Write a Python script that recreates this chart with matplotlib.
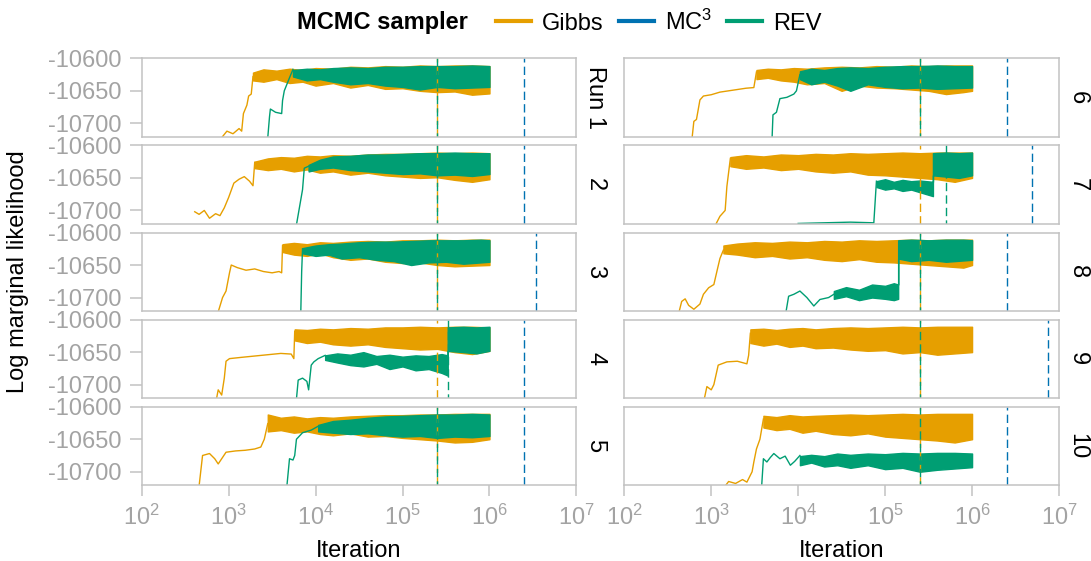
import numpy as np
import matplotlib.pyplot as plt
from matplotlib.lines import Line2D

plt.rcParams['font.family'] = ['Liberation Sans', 'DejaVu Sans']
plt.rcParams['mathtext.fontset'] = 'custom'
plt.rcParams['mathtext.rm'] = 'Liberation Sans'
plt.rcParams['mathtext.it'] = 'Liberation Sans:italic'

GIBBS = '#E69F00'
MC3 = '#0072B2'
REV = '#009E73'
GREY = '#A3A3A3'
SPINE = '#C2C2C2'

runs = ['Run 1', '2', '3', '4', '5', '6', '7', '8', '9', '10']

# pre-convergence paths, x as log10(iteration)
gibbs_path_x = [
    [2.92, 2.98, 3.05, 3.12, 3.15, 3.17, 3.21, 3.23, 3.26, 3.28],
    [2.61, 2.66, 2.72, 2.78, 2.85, 2.90, 2.95, 3.00, 3.06, 3.12, 3.18, 3.24, 3.28, 3.30],
    [2.88, 2.93, 2.97, 3.01, 3.03, 3.10, 3.20, 3.30, 3.40, 3.50, 3.58, 3.61, 3.62],
    [2.86, 2.88, 2.92, 2.95, 2.97, 3.01, 3.15, 3.30, 3.45, 3.60, 3.72, 3.75, 3.76],
    [2.66, 2.70, 2.78, 2.84, 2.88, 2.97, 3.08, 3.19, 3.30, 3.37, 3.41, 3.45],
    [2.78, 2.80, 2.83, 2.87, 2.91, 3.00, 3.10, 3.20, 3.30, 3.40, 3.49, 3.52],
    [3.05, 3.10, 3.16, 3.18, 3.22],
    [2.63, 2.66, 2.70, 2.74, 2.80, 2.87, 2.91, 2.97, 3.03, 3.07, 3.10, 3.14],
    [2.92, 2.95, 3.00, 3.03, 3.08, 3.18, 3.30, 3.41, 3.43, 3.45],
    [3.16, 3.20, 3.28, 3.36, 3.41, 3.47, 3.49, 3.52, 3.56, 3.60],
]
gibbs_path_y = [
    [-10722, -10712, -10716, -10708, -10712, -10685, -10672, -10658, -10655, -10628],
    [-10702, -10706, -10700, -10712, -10705, -10708, -10696, -10680, -10658, -10652, -10648, -10655, -10662, -10626],
    [-10722, -10700, -10690, -10662, -10650, -10654, -10658, -10656, -10660, -10662, -10660, -10662, -10620],
    [-10722, -10708, -10716, -10690, -10664, -10660, -10658, -10656, -10654, -10652, -10653, -10660, -10618],
    [-10722, -10675, -10672, -10680, -10688, -10670, -10668, -10667, -10665, -10662, -10650, -10626],
    [-10722, -10697, -10694, -10664, -10658, -10656, -10652, -10650, -10648, -10646, -10645, -10621],
    [-10722, -10709, -10700, -10663, -10620],
    [-10722, -10706, -10702, -10712, -10718, -10710, -10695, -10685, -10680, -10657, -10640, -10627],
    [-10722, -10703, -10708, -10700, -10670, -10665, -10664, -10668, -10655, -10621],
    [-10722, -10715, -10718, -10712, -10716, -10700, -10685, -10665, -10650, -10619],
]

# sampled band (min / max envelope) after the jump
gibbs_band_x = [
    [3.28, 3.4, 3.55, 3.7, 3.85, 4.0, 4.2, 4.4, 4.6, 4.8, 5.0, 5.2, 5.4, 5.6, 5.8, 6.0],
    [3.30, 3.45, 3.6, 3.75, 3.9, 4.05, 4.2, 4.4, 4.6, 4.8, 5.0, 5.2, 5.4, 5.6, 5.8, 6.0],
    [3.62, 3.75, 3.9, 4.05, 4.2, 4.4, 4.6, 4.8, 5.0, 5.2, 5.4, 5.6, 5.8, 6.0],
    [3.76, 3.9, 4.05, 4.2, 4.4, 4.6, 4.8, 5.0, 5.2, 5.4, 5.6, 5.8, 6.0],
    [3.45, 3.6, 3.75, 3.9, 4.05, 4.2, 4.4, 4.6, 4.8, 5.0, 5.2, 5.4, 5.6, 5.8, 6.0],
    [3.52, 3.65, 3.8, 3.95, 4.1, 4.3, 4.5, 4.7, 4.9, 5.1, 5.3, 5.5, 5.7, 5.9, 6.0],
    [3.22, 3.4, 3.6, 3.8, 4.0, 4.2, 4.4, 4.6, 4.8, 5.0, 5.2, 5.4, 5.6, 5.8, 6.0],
    [3.14, 3.3, 3.5, 3.7, 3.9, 4.1, 4.3, 4.5, 4.7, 4.9, 5.1, 5.3, 5.5, 5.7, 5.9, 6.0],
    [3.45, 3.6, 3.75, 3.9, 4.05, 4.2, 4.4, 4.6, 4.8, 5.0, 5.2, 5.4, 5.6, 5.8, 6.0],
    [3.60, 3.75, 3.9, 4.05, 4.2, 4.4, 4.6, 4.8, 5.0, 5.2, 5.4, 5.6, 5.8, 6.0],
]
gibbs_band_hi = [
    [-10622, -10617, -10619, -10616, -10618, -10615, -10616, -10613, -10614, -10612, -10613, -10611, -10612, -10611, -10611, -10612],
    [-10625, -10620, -10618, -10619, -10616, -10617, -10615, -10616, -10614, -10613, -10613, -10612, -10611, -10612, -10611, -10612],
    [-10618, -10616, -10618, -10615, -10616, -10614, -10613, -10614, -10612, -10612, -10611, -10612, -10611, -10611],
    [-10615, -10616, -10614, -10615, -10613, -10614, -10612, -10612, -10611, -10612, -10611, -10611, -10612],
    [-10612, -10617, -10615, -10618, -10616, -10617, -10615, -10614, -10613, -10613, -10612, -10612, -10611, -10611, -10611],
    [-10618, -10616, -10617, -10615, -10616, -10614, -10613, -10614, -10612, -10613, -10611, -10612, -10611, -10611, -10611],
    [-10618, -10615, -10617, -10614, -10615, -10613, -10614, -10612, -10613, -10612, -10611, -10612, -10611, -10611, -10611],
    [-10620, -10617, -10615, -10616, -10614, -10615, -10613, -10614, -10612, -10613, -10612, -10611, -10612, -10611, -10611, -10611],
    [-10615, -10614, -10616, -10614, -10613, -10615, -10613, -10612, -10613, -10612, -10611, -10612, -10611, -10611, -10611],
    [-10614, -10616, -10613, -10615, -10614, -10613, -10612, -10613, -10612, -10611, -10612, -10611, -10611, -10611],
]
gibbs_band_lo = [
    [-10634, -10636, -10632, -10638, -10636, -10642, -10638, -10645, -10641, -10647, -10646, -10650, -10652, -10651, -10656, -10654],
    [-10635, -10638, -10636, -10640, -10637, -10642, -10640, -10645, -10642, -10646, -10648, -10650, -10649, -10653, -10656, -10652],
    [-10630, -10634, -10636, -10632, -10638, -10642, -10640, -10645, -10647, -10646, -10650, -10652, -10651, -10650],
    [-10632, -10636, -10634, -10638, -10640, -10638, -10642, -10644, -10646, -10645, -10650, -10653, -10648],
    [-10638, -10636, -10640, -10638, -10642, -10644, -10641, -10646, -10645, -10648, -10650, -10652, -10655, -10654, -10650],
    [-10632, -10630, -10634, -10636, -10640, -10638, -10650, -10642, -10645, -10646, -10648, -10650, -10655, -10652, -10650],
    [-10632, -10636, -10634, -10638, -10636, -10640, -10642, -10640, -10645, -10646, -10648, -10650, -10652, -10656, -10650],
    [-10632, -10634, -10638, -10636, -10640, -10638, -10642, -10644, -10641, -10645, -10646, -10648, -10650, -10652, -10654, -10650],
    [-10636, -10640, -10637, -10642, -10640, -10644, -10643, -10646, -10648, -10647, -10652, -10650, -10654, -10652, -10650],
    [-10632, -10636, -10634, -10640, -10637, -10642, -10644, -10641, -10646, -10648, -10650, -10652, -10655, -10650],
]

rev_path_x = [
    [3.45, 3.47, 3.48, 3.54, 3.61, 3.62, 3.64, 3.70, 3.74],
    [3.78, 3.85, 3.87, 3.92],
    [3.83, 3.84, 3.85],
    [3.78, 3.80, 3.85, 3.90, 3.92, 3.95, 3.98, 4.03, 4.11],
    [3.67, 3.70, 3.74, 3.76, 3.78, 3.85, 3.95, 4.03],
    [3.70, 3.71, 3.75, 3.79, 3.87, 3.95, 3.98, 4.02],
    [4.00, 4.30, 4.60, 4.87, 4.90],
    [3.86, 3.89, 3.95, 4.02, 4.10, 4.18, 4.25, 4.35, 4.41],
    [],
    [3.58, 3.60, 3.64, 3.68, 3.72, 3.79, 3.85, 3.91, 3.96, 4.02],
]
rev_path_y = [
    [-10722, -10690, -10678, -10683, -10685, -10665, -10650, -10630, -10617],
    [-10722, -10668, -10635, -10632],
    [-10722, -10660, -10625],
    [-10722, -10693, -10690, -10695, -10708, -10670, -10665, -10660, -10655],
    [-10722, -10680, -10682, -10675, -10650, -10640, -10636, -10630],
    [-10722, -10687, -10683, -10662, -10660, -10655, -10650, -10625],
    [-10720, -10719, -10718, -10719, -10655],
    [-10722, -10698, -10695, -10690, -10700, -10713, -10703, -10700, -10695],
    [],
    [-10722, -10680, -10685, -10678, -10672, -10680, -10676, -10690, -10684, -10675],
]

rev_band_x = [
    [3.74, 3.9, 4.05, 4.2, 4.4, 4.6, 4.8, 5.0, 5.2, 5.4, 5.6, 5.8, 6.0],
    [3.92, 4.05, 4.2, 4.4, 4.6, 4.8, 5.0, 5.2, 5.4, 5.6, 5.8, 6.0],
    [3.85, 4.0, 4.15, 4.3, 4.5, 4.7, 4.9, 5.1, 5.3, 5.5, 5.7, 5.9, 6.0],
    [4.11, 4.25, 4.4, 4.55, 4.7, 4.85, 5.0, 5.15, 5.3, 5.45, 5.52, 5.52, 5.7, 5.85, 6.0],
    [4.03, 4.2, 4.4, 4.6, 4.8, 5.0, 5.2, 5.4, 5.6, 5.8, 6.0],
    [4.02, 4.15, 4.3, 4.45, 4.6, 4.8, 5.0, 5.2, 5.4, 5.6, 5.8, 6.0],
    [4.90, 5.0, 5.1, 5.2, 5.3, 5.4, 5.55, 5.55, 5.7, 5.85, 6.0],
    [4.41, 4.55, 4.7, 4.85, 5.0, 5.1, 5.15, 5.15, 5.3, 5.5, 5.7, 5.9, 6.0],
    [],
    [4.02, 4.15, 4.3, 4.45, 4.6, 4.8, 5.0, 5.2, 5.4, 5.6, 5.8, 6.0],
]
rev_band_hi = [
    [-10618, -10616, -10617, -10615, -10614, -10615, -10613, -10613, -10612, -10612, -10612, -10611, -10612],
    [-10630, -10622, -10617, -10616, -10614, -10614, -10613, -10612, -10612, -10611, -10612, -10612],
    [-10624, -10620, -10618, -10617, -10615, -10614, -10614, -10613, -10612, -10612, -10612, -10611, -10612],
    [-10655, -10652, -10654, -10650, -10656, -10654, -10657, -10655, -10656, -10653, -10655, -10612, -10611, -10612, -10611],
    [-10628, -10622, -10620, -10617, -10615, -10614, -10613, -10612, -10612, -10611, -10612],
    [-10620, -10616, -10618, -10615, -10614, -10615, -10613, -10612, -10612, -10611, -10612, -10612],
    [-10655, -10652, -10656, -10653, -10655, -10654, -10656, -10612, -10611, -10612, -10611],
    [-10690, -10684, -10688, -10680, -10682, -10678, -10680, -10612, -10611, -10612, -10611, -10611, -10612],
    [],
    [-10676, -10674, -10676, -10672, -10674, -10672, -10673, -10671, -10672, -10671, -10671, -10672],
]
rev_band_lo = [
    [-10628, -10634, -10632, -10636, -10640, -10638, -10642, -10644, -10648, -10644, -10646, -10645, -10644],
    [-10640, -10636, -10634, -10638, -10640, -10642, -10644, -10643, -10646, -10645, -10647, -10644],
    [-10632, -10636, -10634, -10640, -10638, -10642, -10644, -10650, -10646, -10645, -10648, -10646, -10645],
    [-10662, -10666, -10670, -10672, -10668, -10676, -10672, -10678, -10676, -10682, -10686, -10648, -10650, -10652, -10648],
    [-10638, -10640, -10642, -10641, -10644, -10646, -10645, -10648, -10646, -10647, -10645],
    [-10632, -10640, -10636, -10642, -10650, -10640, -10644, -10646, -10645, -10647, -10646, -10645],
    [-10664, -10668, -10666, -10670, -10668, -10672, -10678, -10646, -10648, -10650, -10646],
    [-10702, -10698, -10704, -10700, -10702, -10704, -10702, -10640, -10644, -10642, -10645, -10643, -10642],
    [],
    [-10690, -10686, -10692, -10690, -10694, -10690, -10696, -10694, -10700, -10697, -10695, -10693],
]

# convergence iterations (dashed lines)
gibbs_conv = [2.5e5, 2.5e5, 2.5e5, 2.5e5, 2.5e5, 2.5e5, 2.5e5, 2.5e5, 2.5e5, 2.5e5]
rev_conv = [2.5e5, 2.5e5, 2.5e5, 3.35e5, 2.5e5, 2.5e5, 5.0e5, 2.5e5, 2.5e5, 2.5e5]
mc3_conv = [2.5e6, 2.5e6, 3.4e6, 2.5e6, 2.5e6, 2.5e6, 4.9e6, 2.5e6, 7.4e6, 2.5e6]

W, H = 1091, 561
fig = plt.figure(figsize=(W / 100, H / 100), dpi=100)

col_left = [141.7, 624.3]
col_width = 434.7
row_top = [58.3, 145.4, 232.5, 319.6, 406.7]
row_h = 78.7
FS = 17
dash = (0, (6, 3))

for i in range(10):
    col, row = divmod(i, 5)
    ax = fig.add_axes([col_left[col] / W, 1 - (row_top[row] + row_h) / H,
                       col_width / W, row_h / H])
    ax.set_xscale('log')
    ax.set_xlim(1e2, 1e7)
    ax.set_ylim(-10721, -10600)

    # Gibbs
    ax.plot(10 ** np.array(gibbs_path_x[i]), gibbs_path_y[i], color=GIBBS, lw=1.0)
    ax.fill_between(10 ** np.array(gibbs_band_x[i]), gibbs_band_lo[i], gibbs_band_hi[i],
                    color=GIBBS, lw=1.0)
    # REV
    if rev_path_x[i]:
        ax.plot(10 ** np.array(rev_path_x[i]), rev_path_y[i], color=REV, lw=1.0)
        ax.fill_between(10 ** np.array(rev_band_x[i]), rev_band_lo[i], rev_band_hi[i],
                        color=REV, lw=1.0)

    ax.axvline(gibbs_conv[i], color=GIBBS, lw=1, ls=dash)
    ax.axvline(rev_conv[i], color=REV, lw=1, ls=(3, (6, 3)))
    ax.axvline(mc3_conv[i], color=MC3, lw=1, ls=dash)

    for s in ax.spines.values():
        s.set_color(SPINE)
        s.set_linewidth(1.1)

    ax.tick_params(colors=SPINE, labelcolor=GREY, labelsize=FS, width=1.1,
                   length=8.4, pad=6)
    ax.minorticks_off()
    if col == 0:
        ax.set_yticks([-10600, -10650, -10700])
        ax.set_yticklabels(['-10600', '-10650', '-10700'])
    else:
        ax.set_yticks([])
    if row == 4:
        ax.set_xticks([1e2, 1e3, 1e4, 1e5, 1e6, 1e7])
        ax.set_xticklabels([r'$10^{%d}$' % k for k in range(2, 8)])
        ax.tick_params(axis='x', length=8, pad=6)
        ax.set_xlabel('Iteration', fontsize=FS, color='black', labelpad=7)
    else:
        ax.set_xticks([])

    ax.text(1.043, 0.5, runs[i], transform=ax.transAxes, rotation=-90,
            ha='center', va='center', fontsize=FS, color='black')

fig.text(18 / W, 1 - 272 / H, 'Log marginal likelihood', rotation=90,
         ha='center', va='center', fontsize=FS)

fig.text(297 / W, 1 - 22 / H, 'MCMC sampler', fontsize=FS, fontweight='bold',
         ha='left', va='center')
handles = [Line2D([], [], color=GIBBS, lw=3),
           Line2D([], [], color=MC3, lw=3),
           Line2D([], [], color=REV, lw=3)]
fig.legend(handles, ['Gibbs', 'MC$^3$', 'REV'], ncol=3, frameon=False,
           loc='center left', bbox_to_anchor=(496 / W, 1 - 22 / H),
           fontsize=FS, handlelength=1.48, handletextpad=0.47,
           columnspacing=0.64, borderaxespad=0, borderpad=0)

fig.savefig('out.png', dpi=100)
